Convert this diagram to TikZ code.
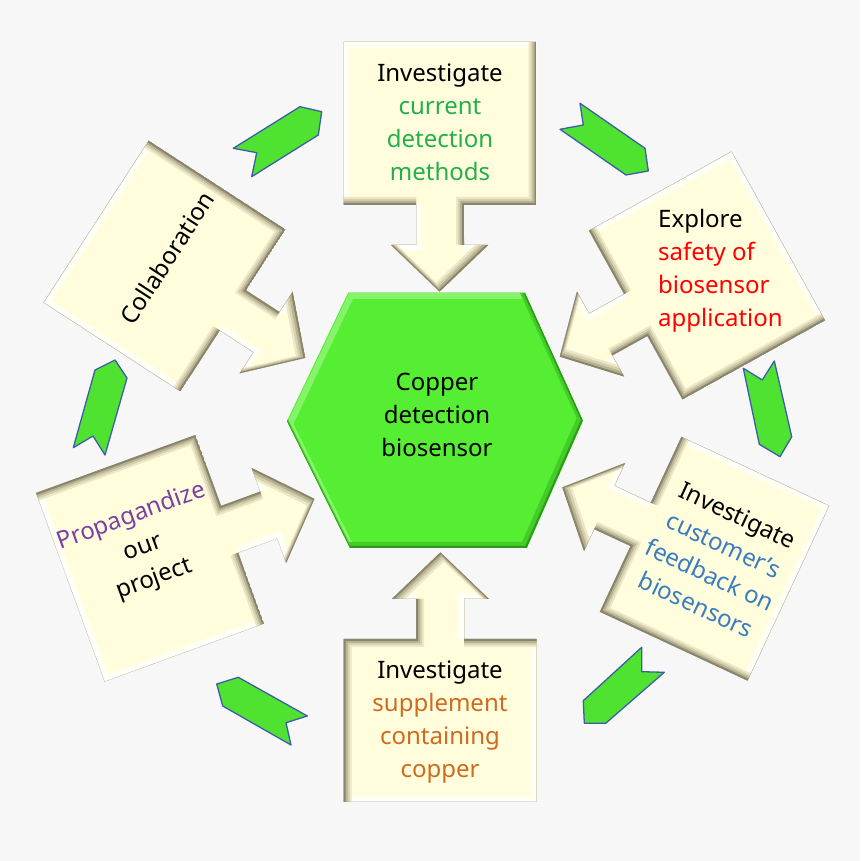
\documentclass[tikz,border=0pt]{standalone}
\usepackage{fontspec}
\setmainfont{Noto Sans}
\definecolor{bg}{HTML}{F7F7F7}
\definecolor{cream}{HTML}{FFFDDC}
\definecolor{bevlight}{HTML}{FFFFF2}
\definecolor{bevA}{HTML}{ECE7C8}
\definecolor{bevB}{HTML}{D6D0AE}
\definecolor{bevC}{HTML}{B8B294}
\definecolor{bevD}{HTML}{8A856E}
\definecolor{hexgreen}{HTML}{55EE33}
\definecolor{hexlight}{HTML}{86F46A}
\definecolor{hexdark}{HTML}{44CC28}
\definecolor{hexedge}{HTML}{2E9A1B}
\definecolor{chgreen}{HTML}{4FE231}
\definecolor{chblue}{HTML}{3D5DA8}
\definecolor{tgreen}{HTML}{21B04B}
\definecolor{tred}{HTML}{FF0000}
\definecolor{tblue}{HTML}{3A7CC0}
\definecolor{tpurple}{HTML}{7B3FA6}
\definecolor{torange}{HTML}{D06A1E}
\newcommand\CbxPath{(-96.5,81.5) -- (96.5,81.5) -- (96.5,-81.5) -- (24,-81.5) -- (24,-121.5) -- (49,-121.5) -- (0,-168.5) -- (-49,-121.5) -- (-24,-121.5) -- (-24,-81.5) -- (-96.5,-81.5) -- cycle}
\newcommand\HxPath{(348,568) -- (525,568) -- (583,440) -- (527,313) -- (350,313) -- (287,440) -- cycle}
\tikzset{
  txt/.style={font=\fontsize{24}{33}\selectfont, align=center, inner sep=0pt},
  chev/.style={fill=chgreen, draw=chblue, line width=1.3pt, line join=round},
  cbox/.pic={
    \fill[cream] \CbxPath;
    \begin{scope}
      \clip \CbxPath;
      \draw[bevlight, line width=6pt, shift={(3,-3)}] \CbxPath;
      \draw[white, line width=2pt, shift={(1,-1)}] \CbxPath;
      \draw[bevA, line width=8pt, shift={(-4,4)}] \CbxPath;
      \draw[bevB, line width=6pt, shift={(-3,3)}] \CbxPath;
      \draw[bevC, line width=4pt, shift={(-2,2)}] \CbxPath;
      \draw[bevD, line width=2pt, shift={(-1,1)}] \CbxPath;
    \end{scope}
  }
}
\begin{document}
\begin{tikzpicture}[x=1pt,y=1pt]
\useasboundingbox (0,0) rectangle (860,861);
\fill[bg] (0,0) rectangle (860,861);

% chevrons
\filldraw[chev] (233.3,712.7) -- (300,754.3) -- (321.7,749.3) -- (318.3,726) -- (251.7,684.3) -- (256.7,708.3) -- cycle;
\filldraw[chev] (560,731.7) -- (583.3,736) -- (580,757.7) -- (645,712.7) -- (648.3,690) -- (626,686) -- cycle;
\filldraw[chev] (743.3,492.7) -- (762.3,481) -- (774.3,500) -- (791.7,424.3) -- (780,404.3) -- (759.3,416.7) -- cycle;
\filldraw[chev] (641.7,213.7) -- (641.7,189.3) -- (664.3,188.7) -- (605.7,137.7) -- (584.3,137.7) -- (583.3,160.3) -- cycle;
\filldraw[chev] (216.7,177) -- (238.3,183.7) -- (307.3,145) -- (286,138.3) -- (291,116) -- (222.7,155) -- cycle;
\filldraw[chev] (73.3,413.3) -- (93,425) -- (105,406) -- (127,483) -- (115,501) -- (95,491) -- cycle;

% boxes with arrows
\pic (b1) at (440,737.5) {cbox};
\pic[rotate=-61] (b2) at (707,585.5) {cbox};
\pic[rotate=-115] (b3) at (714.5,302.25) {cbox};
\pic[rotate=180] (b4) at (440,140.5) {cbox};
\pic[rotate=110, scale=1.04] (b5) at (150,302.75) {cbox};
\pic[rotate=57] (b6) at (164.5,595) {cbox};

% hexagon
\fill[hexgreen] \HxPath;
\begin{scope}
  \clip \HxPath;
  \draw[hexlight, line width=6pt, shift={(3,-3)}] \HxPath;
  \draw[hexdark, line width=6pt, shift={(-3,3)}] \HxPath;
  \draw[hexedge, line width=2pt, shift={(-1,1)}] \HxPath;
\end{scope}

% texts
\node[txt] (hub) at (437,446) {Copper\\detection\\biosensor};
\node[txt] (t1) at (440,738.5) {Investigate\\\textcolor{tgreen}{current}\\\textcolor{tgreen}{detection}\\\textcolor{tgreen}{methods}};
\node[txt, align=left, anchor=west] (t2) at (658,590) {Explore\\\textcolor{tred}{safety of}\\\textcolor{tred}{biosensor}\\\textcolor{tred}{application}};
\node[txt, rotate=-25] (t3) at (717,301) {Investigate\\\textcolor{tblue}{customer’s}\\\textcolor{tblue}{feedback on}\\\textcolor{tblue}{biosensors}};
\node[txt] (t4) at (440,139) {Investigate\\\textcolor{torange}{supplement}\\\textcolor{torange}{containing}\\\textcolor{torange}{copper}};
\node[txt, rotate=20] (t5) at (143,313) {\textcolor{tpurple}{Propagandize}\\our\\project};
\node[txt, rotate=57] (t6) at (167,603) {Collaboration};
\end{tikzpicture}
\end{document}
